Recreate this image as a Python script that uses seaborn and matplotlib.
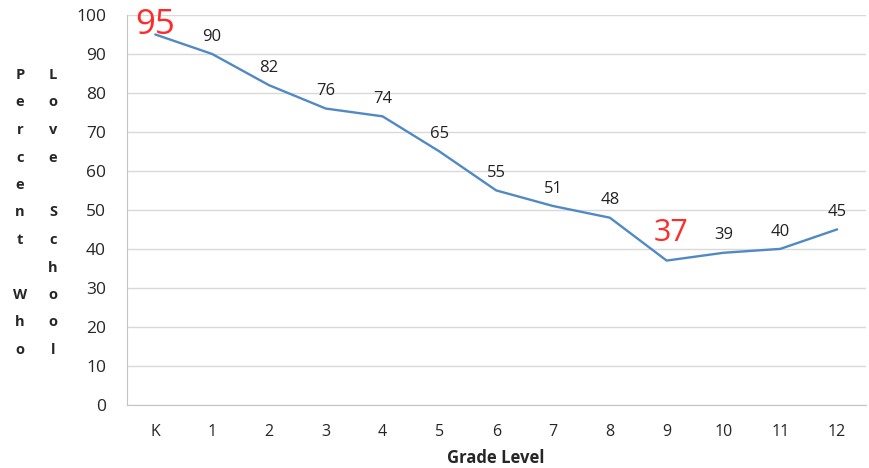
import numpy as np
import pandas as pd
import seaborn as sns
import matplotlib.pyplot as plt

grades = ["K", "1", "2", "3", "4", "5", "6", "7", "8", "9", "10", "11", "12"]
percent = [95, 90, 82, 76, 74, 65, 55, 51, 48, 37, 39, 40, 45]
highlight = ["K", "9"]

df = pd.DataFrame({"grade": grades, "percent": percent})

sns.set_style("white")
plt.rcParams["font.family"] = ["Open Sans", "DejaVu Sans"]

fig = plt.figure(figsize=(8.69, 4.68), dpi=100)
ax = fig.add_axes([0.146, 0.135, 0.85, 0.833])

sns.lineplot(data=df, x="grade", y="percent", color="#5189c4", linewidth=1.7, ax=ax, sort=False)

# data labels
for i, (g, v) in enumerate(zip(grades, percent)):
    if g == "K":
        ax.annotate(str(v), (i, v), xytext=(0, 6.5), textcoords="offset points",
                    ha="center", va="center", fontsize=25, color="#ff2a2a")
    elif g in highlight:
        ax.annotate(str(v), (i, v), xytext=(3, 20), textcoords="offset points",
                    ha="center", va="center", fontsize=22, color="#ff2a2a")
    else:
        ax.annotate(str(v), (i, v), xytext=(0, 12.5), textcoords="offset points",
                    ha="center", va="center", fontsize=12, color="#222222")

ax.set_ylim(0, 100)
ax.set_yticks(range(0, 101, 10))
ax.set_xlim(-0.5, len(grades) - 0.5)
ax.set_xticks(range(len(grades)))
ax.set_xticklabels(grades)
ax.set_xticks(np.arange(-0.5, len(grades), 1), minor=True)
ax.tick_params(axis="x", which="major", length=0, labelsize=11.5, pad=14)
ax.tick_params(axis="x", which="minor", length=4, color="#c4c4c4", direction="out")
ax.tick_params(axis="y", length=6, color="#c4c4c4", labelsize=12.5, pad=9)
ax.grid(axis="y", color="#d9d9d9", linewidth=1)
ax.set_axisbelow(True)

for s in ["top", "right"]:
    ax.spines[s].set_visible(False)
ax.spines["left"].set_color("#c4c4c4")
ax.spines["bottom"].set_color("#c4c4c4")

ax.set_xlabel("Grade Level", fontsize=12, fontweight="bold", labelpad=6)
ax.set_ylabel("")

# stacked y label in two columns
col1 = list("Percent") + [""] + list("Who")
col2 = list("Love") + [""] + list("School")
for r, ch in enumerate(col1):
    fig.text(20 / 869, 1 - (75 + r * 27.5) / 468, ch, ha="center", va="center",
             fontsize=10.5, fontweight="bold")
for r, ch in enumerate(col2):
    fig.text(53 / 869, 1 - (75 + r * 27.5) / 468, ch, ha="center", va="center",
             fontsize=10.5, fontweight="bold")

fig.savefig("out.png", dpi=100)
